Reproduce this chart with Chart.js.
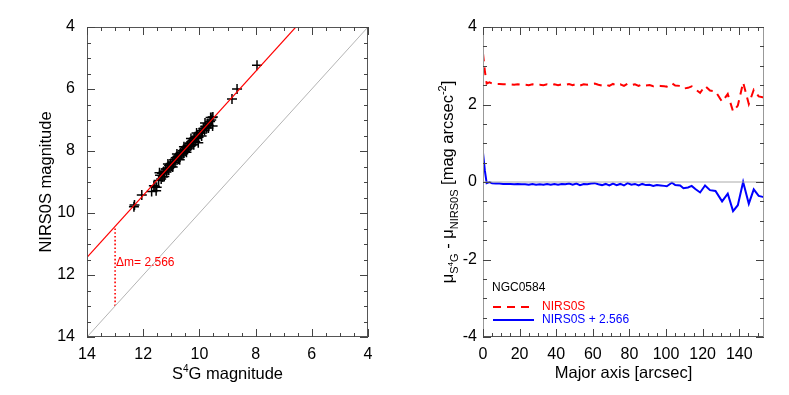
<!DOCTYPE html>
<html>
<head>
<meta charset="utf-8">
<script src="https://cdn.jsdelivr.net/npm/chart.js@4/dist/chart.umd.min.js"></script>
<style>
  html, body { margin: 0; padding: 0; background: #fff; }
  #wrap { position: relative; width: 789px; height: 395px; }
  #left { position: absolute; left: 0; top: 0; }
  #right { position: absolute; left: 395px; top: 0; }
</style>
</head>
<body>
<div id="wrap">
  <canvas id="left" width="395" height="395"></canvas>
  <canvas id="right" width="394" height="395"></canvas>
</div>
<script>
// Left panel: NIRS0S vs S4G magnitudes (black crosses), fitted offset line and 1:1 line.
const OFFSET = 2.566;
const magS4G = [12.33, 12.31, 12.05, 11.70, 11.62, 11.54, 11.52, 11.45, 11.40, 11.36, 11.33, 11.30, 11.27,
  11.24, 11.20, 11.17, 11.14, 11.10, 11.08, 11.05, 11.02, 10.99, 10.96, 10.93, 10.90, 10.87, 10.84,
  10.81, 10.78, 10.75, 10.72, 10.69, 10.66, 10.63, 10.60, 10.57, 10.54, 10.51, 10.48, 10.45, 10.42,
  10.39, 10.36, 10.33, 10.30, 10.27, 10.24, 10.21, 10.18, 10.15, 10.12, 10.09, 10.06, 10.04, 10.03,
  10.00, 9.94, 9.90, 9.86, 9.82, 9.78, 9.74, 9.70, 9.66, 9.62, 9.58, 9.55, 9.53, 9.52, 8.84, 8.66, 7.95,
  11.58, 11.42, 11.25, 11.12, 10.95, 10.80, 10.70, 10.55, 10.46, 10.30, 10.20, 10.10, 9.92, 9.80, 9.68, 9.60];
const magNIRS0S = [9.80, 9.74, 9.42, 9.31, 9.12, 9.28, 9.17, 8.95, 8.78, 8.90, 8.72, 8.84, 8.66,
  8.74, 8.58, 8.68, 8.55, 8.61, 8.47, 8.53, 8.40, 8.49, 8.36, 8.42, 8.28, 8.37, 8.22,
  8.21, 8.18, 8.26, 8.12, 8.19, 8.05, 8.13, 7.99, 8.08, 7.94, 8.01, 7.88, 7.96, 7.82,
  7.90, 7.76, 7.85, 7.71, 7.80, 7.66, 7.72, 7.58, 7.69, 7.54, 7.60, 7.48, 7.73, 7.56,
  7.40, 7.35, 7.42, 7.28, 7.34, 7.20, 7.25, 7.12, 7.18, 7.05, 7.00, 6.92, 7.19, 6.90, 6.32, 6.00, 5.23,
  9.14, 8.70, 8.82, 8.42, 8.52, 8.10, 8.28, 7.86, 8.04, 7.60, 7.80, 7.42, 7.52, 7.10, 7.26, 6.92];
const magRange = [14, 4];
const magTicks = [14, 12, 10, 8, 6, 4];
const deltaX = 13;

// Right panel: surface brightness difference along the major axis.
const radius = [0, 1, 2, 3.5, 5, 7, 9, 11, 13, 15, 17, 19, 21, 23, 25, 27, 29, 31, 33, 35, 37, 39,
  41, 43, 45, 47, 49, 51, 53, 55, 57, 59, 61, 63, 65, 67, 69, 71, 73, 75, 77, 79, 81, 83, 85, 87,
  89, 91, 93, 95, 97, 99, 100.4, 103.2, 105, 107.7, 109.5, 112, 114, 116, 118.6, 121.3, 124, 127,
  130.6, 133.7, 136.6, 139.2, 142.1, 145.2, 147.9, 150.6, 153.4];
const diffRaw = [3.32, 2.87, 2.54, 2.57, 2.54, 2.53, 2.53, 2.52, 2.52, 2.52, 2.51, 2.52, 2.51, 2.51,
  2.50, 2.52, 2.50, 2.51, 2.50, 2.52, 2.50, 2.52, 2.50, 2.52, 2.51, 2.53, 2.50, 2.53, 2.49, 2.52,
  2.51, 2.53, 2.54, 2.51, 2.49, 2.52, 2.48, 2.53, 2.49, 2.52, 2.48, 2.54, 2.50, 2.52, 2.48, 2.52,
  2.49, 2.50, 2.47, 2.49, 2.48, 2.47, 2.46, 2.55, 2.49, 2.48, 2.41, 2.43, 2.47, 2.39, 2.30, 2.48,
  2.36, 2.34, 2.07, 2.27, 1.82, 1.97, 2.57, 2.01, 2.38, 2.21, 2.18];
const diffShifted = [0.75, 0.30, -0.03, 0.00, -0.03, -0.04, -0.04, -0.05, -0.05, -0.05, -0.06, -0.05,
  -0.06, -0.06, -0.07, -0.05, -0.07, -0.06, -0.07, -0.05, -0.07, -0.05, -0.07, -0.05, -0.06, -0.04,
  -0.07, -0.04, -0.08, -0.05, -0.06, -0.04, -0.03, -0.06, -0.08, -0.05, -0.09, -0.04, -0.08, -0.05,
  -0.09, -0.03, -0.07, -0.05, -0.09, -0.05, -0.08, -0.07, -0.10, -0.08, -0.09, -0.10, -0.11, -0.02,
  -0.08, -0.09, -0.16, -0.14, -0.10, -0.18, -0.27, -0.09, -0.21, -0.23, -0.50, -0.30, -0.75, -0.60,
  0.00, -0.56, -0.19, -0.36, -0.39];
const radiusMax = 153.5;
const radiusTicks = [0, 20, 40, 60, 80, 100, 120, 140];
const diffTicks = [4, 2, 0, -2, -4];
const galaxy = "NGC0584";

const FONT = '"Liberation Sans", Arial, Helvetica, sans-serif';
const RED = "rgb(255,0,0)";
const BLUE = "rgb(0,0,255)";

// text made of pieces with their own size / vertical shift (sub- and superscripts)
function richText(ctx, parts, cx, cy, rot, size) {
  ctx.save();
  ctx.translate(cx, cy);
  ctx.rotate(rot);
  let w = 0;
  for (const p of parts) {
    ctx.font = `${p.s || size}px ${FONT}`;
    p.w = ctx.measureText(p.t).width;
    w += p.w;
  }
  let x = -w / 2;
  ctx.textBaseline = "alphabetic";
  ctx.textAlign = "left";
  for (const p of parts) {
    ctx.font = `${p.s || size}px ${FONT}`;
    ctx.fillStyle = p.c || "#000";
    ctx.fillText(p.t, x, size * 0.36 + (p.dy || 0));
    x += p.w;
  }
  ctx.restore();
}

// IDL-like frame with inward major/minor ticks on all four sides
const frame = {
  id: "frame",
  afterDatasetsDraw(chart, args, o) {
    const { ctx, chartArea: a, scales: { x, y } } = chart;
    ctx.save();
    ctx.lineWidth = 1;
    const side = (col, x1, y1, x2, y2) => {
      ctx.strokeStyle = col;
      ctx.beginPath(); ctx.moveTo(x1, y1); ctx.lineTo(x2, y2); ctx.stroke();
    };
    side(o.hColor, a.left, a.top + 0.5, a.right, a.top + 0.5);
    side(o.hColor, a.left, a.bottom - 0.5, a.right, a.bottom - 0.5);
    side(o.vColor, a.left + 0.5, a.top, a.left + 0.5, a.bottom);
    side(o.vColor, a.right - 0.5, a.top, a.right - 0.5, a.bottom);
    ctx.strokeStyle = o.tickColor;
    ctx.beginPath();
    for (let v = x.min; v <= x.max + 1e-9; v += o.xMinor) {
      const major = Math.abs(v / o.xMajor - Math.round(v / o.xMajor)) < 1e-6;
      const len = major ? 8 : 4;
      const px = Math.round(x.getPixelForValue(v)) + 0.5;
      ctx.moveTo(px, a.bottom); ctx.lineTo(px, a.bottom - len);
      ctx.moveTo(px, a.top); ctx.lineTo(px, a.top + len);
    }
    for (let v = y.min; v <= y.max + 1e-9; v += o.yMinor) {
      const major = Math.abs(v / o.yMajor - Math.round(v / o.yMajor)) < 1e-6;
      const len = major ? 8 : 4;
      const py = Math.round(y.getPixelForValue(v)) + 0.5;
      ctx.moveTo(a.left, py); ctx.lineTo(a.left + len, py);
      ctx.moveTo(a.right, py); ctx.lineTo(a.right - len, py);
    }
    ctx.stroke();
    ctx.restore();
    if (o.extra) o.extra(chart);
  },
};

const tickFont = { family: FONT, size: 16 };

function fixedTicks(values) {
  return (s) => { s.ticks = values.map((v) => ({ value: v })); };
}

// ---- left chart
new Chart(document.getElementById("left"), {
  type: "scatter",
  data: {
    datasets: [
      {
        data: magRange.map((m) => ({ x: m, y: m })),
        showLine: true, pointRadius: 0, borderColor: "#b4b4b4", borderWidth: 1,
      },
      {
        data: magRange.map((m) => ({ x: m, y: m - OFFSET })),
        showLine: true, pointRadius: 0, borderColor: RED, borderWidth: 1.2,
      },
      {
        data: [{ x: deltaX, y: deltaX }, { x: deltaX, y: deltaX - OFFSET }],
        showLine: true, pointRadius: 0, borderColor: RED, borderWidth: 1.6, borderDash: [1.6, 2.2],
      },
      {
        data: magS4G.map((m, i) => ({ x: m, y: magNIRS0S[i] })),
        pointStyle: "cross", pointRadius: 5, pointBorderWidth: 1.5,
        pointBorderColor: "#000", pointBackgroundColor: "#000",
      },
    ],
  },
  options: {
    responsive: false,
    animation: false,
    layout: { padding: { left: 0, right: 27, top: 27, bottom: 0 } },
    plugins: {
      legend: { display: false },
      tooltip: { enabled: false },
      frame: {
        hColor: "#555", vColor: "#555", tickColor: "#444",
        xMajor: 2, xMinor: 0.5, yMajor: 2, yMinor: 0.5,
        extra(chart) {
          const { ctx, scales: { x, y }, chartArea: a } = chart;
          ctx.save();
          ctx.font = `12px ${FONT}`;
          ctx.fillStyle = RED;
          ctx.textBaseline = "middle";
          ctx.fillText("\u0394m= " + OFFSET.toFixed(3), x.getPixelForValue(deltaX) + 1, y.getPixelForValue(11.6));
          ctx.restore();
          richText(ctx, [{ t: "S" }, { t: "4", s: 10, dy: -7 }, { t: "G magnitude" }],
            (a.left + a.right) / 2, 373, 0, 16.5);
          richText(ctx, [{ t: "NIRS0S magnitude" }], 45, (a.top + a.bottom) / 2, -Math.PI / 2, 16.5);
        },
      },
    },
    scales: {
      x: {
        type: "linear", min: 4, max: 14, reverse: true,
        afterBuildTicks: fixedTicks(magTicks),
        afterFit(s) { s.height = 58; },
        grid: { display: false, drawTicks: false }, border: { display: false },
        ticks: { font: tickFont, color: "#000", padding: 8, maxRotation: 0, autoSkip: false },
      },
      y: {
        type: "linear", min: 4, max: 14, reverse: true,
        afterBuildTicks: fixedTicks(magTicks),
        afterFit(s) { s.width = 87; },
        grid: { display: false, drawTicks: false }, border: { display: false },
        ticks: { font: tickFont, color: "#000", padding: 12, autoSkip: false },
      },
    },
  },
  plugins: [frame],
});

// ---- right chart
new Chart(document.getElementById("right"), {
  type: "scatter",
  data: {
    datasets: [
      {
        data: [{ x: 0, y: 0 }, { x: radiusMax, y: 0 }],
        showLine: true, pointRadius: 0, borderColor: "#aaa", borderWidth: 1,
      },
      {
        data: radius.map((r, i) => ({ x: r, y: diffRaw[i] })),
        showLine: true, pointRadius: 0, borderColor: RED, borderWidth: 2, borderDash: [8, 6],
      },
      {
        data: radius.map((r, i) => ({ x: r, y: diffShifted[i] })),
        showLine: true, pointRadius: 0, borderColor: BLUE, borderWidth: 2,
      },
    ],
  },
  options: {
    responsive: false,
    animation: false,
    layout: { padding: { left: 0, right: 25, top: 27, bottom: 0 } },
    plugins: {
      legend: { display: false },
      tooltip: { enabled: false },
      frame: {
        hColor: "#555", vColor: "#999", tickColor: "#444",
        xMajor: 20, xMinor: 5, yMajor: 2, yMinor: 0.5,
        extra(chart) {
          const { ctx, chartArea: a } = chart;
          ctx.save();
          ctx.font = `12px ${FONT}`;
          ctx.textBaseline = "middle";
          ctx.fillStyle = "#000";
          ctx.fillText(galaxy, 97, 288);
          ctx.lineWidth = 2;
          ctx.strokeStyle = RED;
          ctx.setLineDash([8, 6]);
          ctx.beginPath(); ctx.moveTo(98, 307); ctx.lineTo(139, 307); ctx.stroke();
          ctx.setLineDash([]);
          ctx.strokeStyle = BLUE;
          ctx.beginPath(); ctx.moveTo(98, 320); ctx.lineTo(139, 320); ctx.stroke();
          ctx.fillStyle = RED;
          ctx.fillText("NIRS0S", 147, 307);
          ctx.fillStyle = BLUE;
          ctx.fillText("NIRS0S + " + OFFSET.toFixed(3), 147, 320);
          ctx.restore();
          richText(ctx, [{ t: "Major axis [arcsec]" }], (a.left + a.right) / 2, 372, 0, 16.5);
          richText(ctx, [
            { t: "\u03bc" }, { t: "S", s: 11, dy: 5 }, { t: "4", s: 8, dy: 0 }, { t: "G", s: 11, dy: 5 },
            { t: " - \u03bc" }, { t: "NIRS0S", s: 11, dy: 5 },
            { t: " [mag arcsec" }, { t: "-2", s: 11, dy: -7 }, { t: "]" },
          ], 52, (a.top + a.bottom) / 2, -Math.PI / 2, 16.5);
        },
      },
    },
    scales: {
      x: {
        type: "linear", min: 0, max: radiusMax,
        afterBuildTicks: fixedTicks(radiusTicks),
        afterFit(s) { s.height = 58; },
        grid: { display: false, drawTicks: false }, border: { display: false },
        ticks: { font: tickFont, color: "#000", padding: 8, maxRotation: 0, autoSkip: false },
      },
      y: {
        type: "linear", min: -4, max: 4,
        afterBuildTicks: fixedTicks(diffTicks),
        afterFit(s) { s.width = 88; },
        grid: { display: false, drawTicks: false }, border: { display: false },
        ticks: { font: tickFont, color: "#000", padding: 6, autoSkip: false },
      },
    },
  },
  plugins: [frame],
});
</script>
</body>
</html>
